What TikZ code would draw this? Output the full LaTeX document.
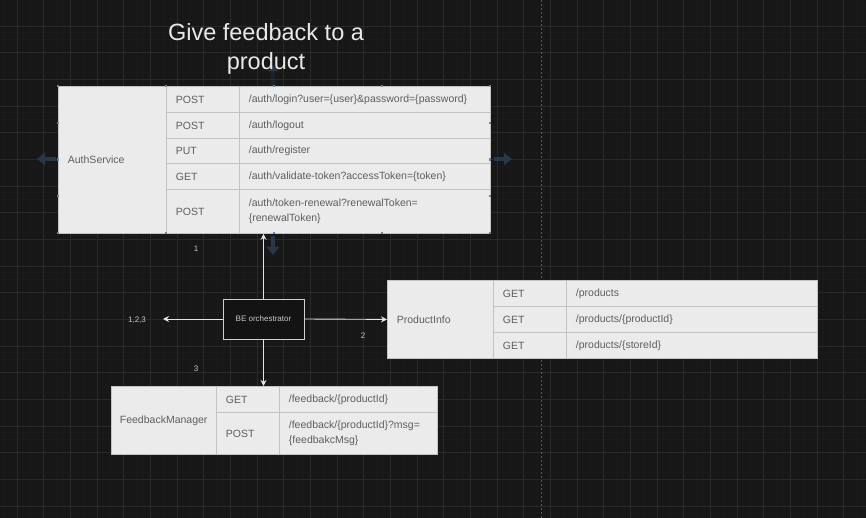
\documentclass[tikz,border=0pt]{standalone}
\usepackage{fontspec}
\setmainfont{Liberation Sans}
\usetikzlibrary{arrows.meta}
\definecolor{bgcol}{HTML}{171717}
\definecolor{gridmin}{HTML}{1A1A1A}
\definecolor{gridmaj}{HTML}{2A2A2A}
\definecolor{pagecol}{HTML}{5A5A5A}
\definecolor{cellfill}{HTML}{EBEBEB}
\definecolor{cellline}{HTML}{C2C2C2}
\definecolor{celltext}{HTML}{5E5E5E}
\definecolor{wirecol}{HTML}{E4E4E4}
\definecolor{lblcol}{HTML}{C8C8C8}
\definecolor{titlecol}{HTML}{E8E8E8}
\definecolor{hovercol}{HTML}{27384A}
\definecolor{handlecol}{HTML}{5F88B0}
\definecolor{orchfill}{HTML}{131313}
\definecolor{orchline}{HTML}{CFCFCF}
\begin{document}
\begin{tikzpicture}[x=1pt,y=-1pt,
  cell/.style 2 args={draw=cellline, line width=0.8pt, fill=cellfill, text=celltext,
    anchor=north west, inner xsep=9.5pt, inner ysep=0pt, align=left,
    minimum width=#1, text width=#1-19, minimum height=#2,
    font=\fontsize{10.5}{15.4}\selectfont},
  wire/.style={draw=wirecol, line width=0.9pt, -{Stealth[length=6pt,width=6pt]}},
  lbl/.style={text=lblcol, font=\fontsize{8}{9}\selectfont, inner sep=0pt},
  orchbox/.style={draw=orchline, line width=0.9pt, fill=orchfill, text=lblcol,
    minimum width=81, minimum height=40, inner sep=0pt, font=\fontsize{8}{9}\selectfont},
  hoverarrow/.style={draw=hovercol, line width=4.5pt, -{Triangle[length=8pt,width=12pt]}},
  titlestyle/.style={text=titlecol, align=center, inner sep=0pt,
    font=\fontsize{23.5}{29}\selectfont}]
\useasboundingbox (0,0) rectangle (866,518);
\fill[bgcol] (0,0) rectangle (866,518);
% grid
\foreach \k in {0,...,129} \draw[gridmin, line width=0.4pt] ({3.67+\k*6.6667},0) -- ++(0,518);
\foreach \k in {0,...,77} \draw[gridmin, line width=0.4pt] (0,{6+\k*6.6667}) -- ++(866,0);
\foreach \k in {0,...,31} \draw[gridmaj, line width=0.7pt] ({17+\k*26.6667},0) -- ++(0,518);
\foreach \k in {0,...,18} \draw[gridmaj, line width=0.7pt] (0,{26+\k*26.6667}) -- ++(866,0);
\draw[pagecol, line width=0.6pt, dash pattern=on 2pt off 2pt] (541,0) -- (541,518);
% hover arrows
\draw[hoverarrow] (56,159) -- (37,159);
\draw[hoverarrow] (494,159) -- (512,159);
\draw[hoverarrow] (273,236) -- (273,255);
\draw[hoverarrow, draw opacity=0.35] (273,88) -- (273,64);
% AuthService table
\node[cell={108}{147}] (auth) at (58,86) {AuthService};
\node[cell={73}{26}] (a1m) at (166,86) {POST};
\node[cell={251}{26}] (a1p) at (239,86) {/auth/login?user=\{user\}\&password=\{password\}};
\node[cell={73}{26}] (a2m) at (166,112) {POST};
\node[cell={251}{26}] (a2p) at (239,112) {/auth/logout};
\node[cell={73}{25}] (a3m) at (166,138) {PUT};
\node[cell={251}{25}] (a3p) at (239,138) {/auth/register};
\node[cell={73}{26}] (a4m) at (166,163) {GET};
\node[cell={251}{26}] (a4p) at (239,163) {/auth/validate-token?accessToken=\{token\}};
\node[cell={73}{44}] (a5m) at (166,189) {POST};
\node[cell={251}{44}] (a5p) at (239,189) {/auth/token-renewal?renewalToken=\\\{renewalToken\}};
% selection handles
\foreach \x in {58,166,274,382,490} {
  \fill[handlecol] (\x-1.3,84.7) rectangle ++(2.6,2.6);
  \fill[handlecol] (\x-1.3,231.7) rectangle ++(2.6,2.6);
}
\foreach \y in {123,159.5,196} {
  \fill[handlecol] (56.7,\y-1.3) rectangle ++(2.6,2.6);
  \fill[handlecol] (488.7,\y-1.3) rectangle ++(2.6,2.6);
}
% ProductInfo table
\node[cell={106}{78}] (prod) at (387,280) {ProductInfo};
\node[cell={73}{26}] (p1m) at (493,280) {GET};
\node[cell={251}{26}] (p1p) at (566,280) {/products};
\node[cell={73}{26}] (p2m) at (493,306) {GET};
\node[cell={251}{26}] (p2p) at (566,306) {/products/\{productId\}};
\node[cell={73}{26}] (p3m) at (493,332) {GET};
\node[cell={251}{26}] (p3p) at (566,332) {/products/\{storeId\}};
% FeedbackManager table
\node[cell={105}{68}, inner xsep=8.5pt, text width=88] (fbm) at (111,386) {FeedbackManager};
\node[cell={63}{26}] (f1m) at (216,386) {GET};
\node[cell={158}{26}] (f1p) at (279,386) {/feedback/\{productId\}};
\node[cell={63}{42}] (f2m) at (216,412) {POST};
\node[cell={158}{42}] (f2p) at (279,412) {/feedback/\{productId\}?msg=\\\{feedbakcMsg\}};
% orchestrator
\node[orchbox] (orch) at (263.5,319) {BE orchestrator};
\coordinate (leftend) at (163,319);
\draw[wire] (orch.north) -- (orch.north |- a5p.south);
\draw[wire] (orch.east) -- (prod.west);
\draw[wire] (orch.south) -- (orch.south |- f1m.north);
\draw[wire] (orch.west) -- (leftend);
% labels
\node[lbl] (l1) at (196,249) {1};
\node[lbl] (l2) at (363,336) {2};
\node[lbl] (l3) at (196,369) {3};
\node[lbl] (l123) at (137,320) {1,2,3};
% title
\node[titlestyle] (title) at (266,49) {Give feedback to a\\product};
\end{tikzpicture}
\end{document}
